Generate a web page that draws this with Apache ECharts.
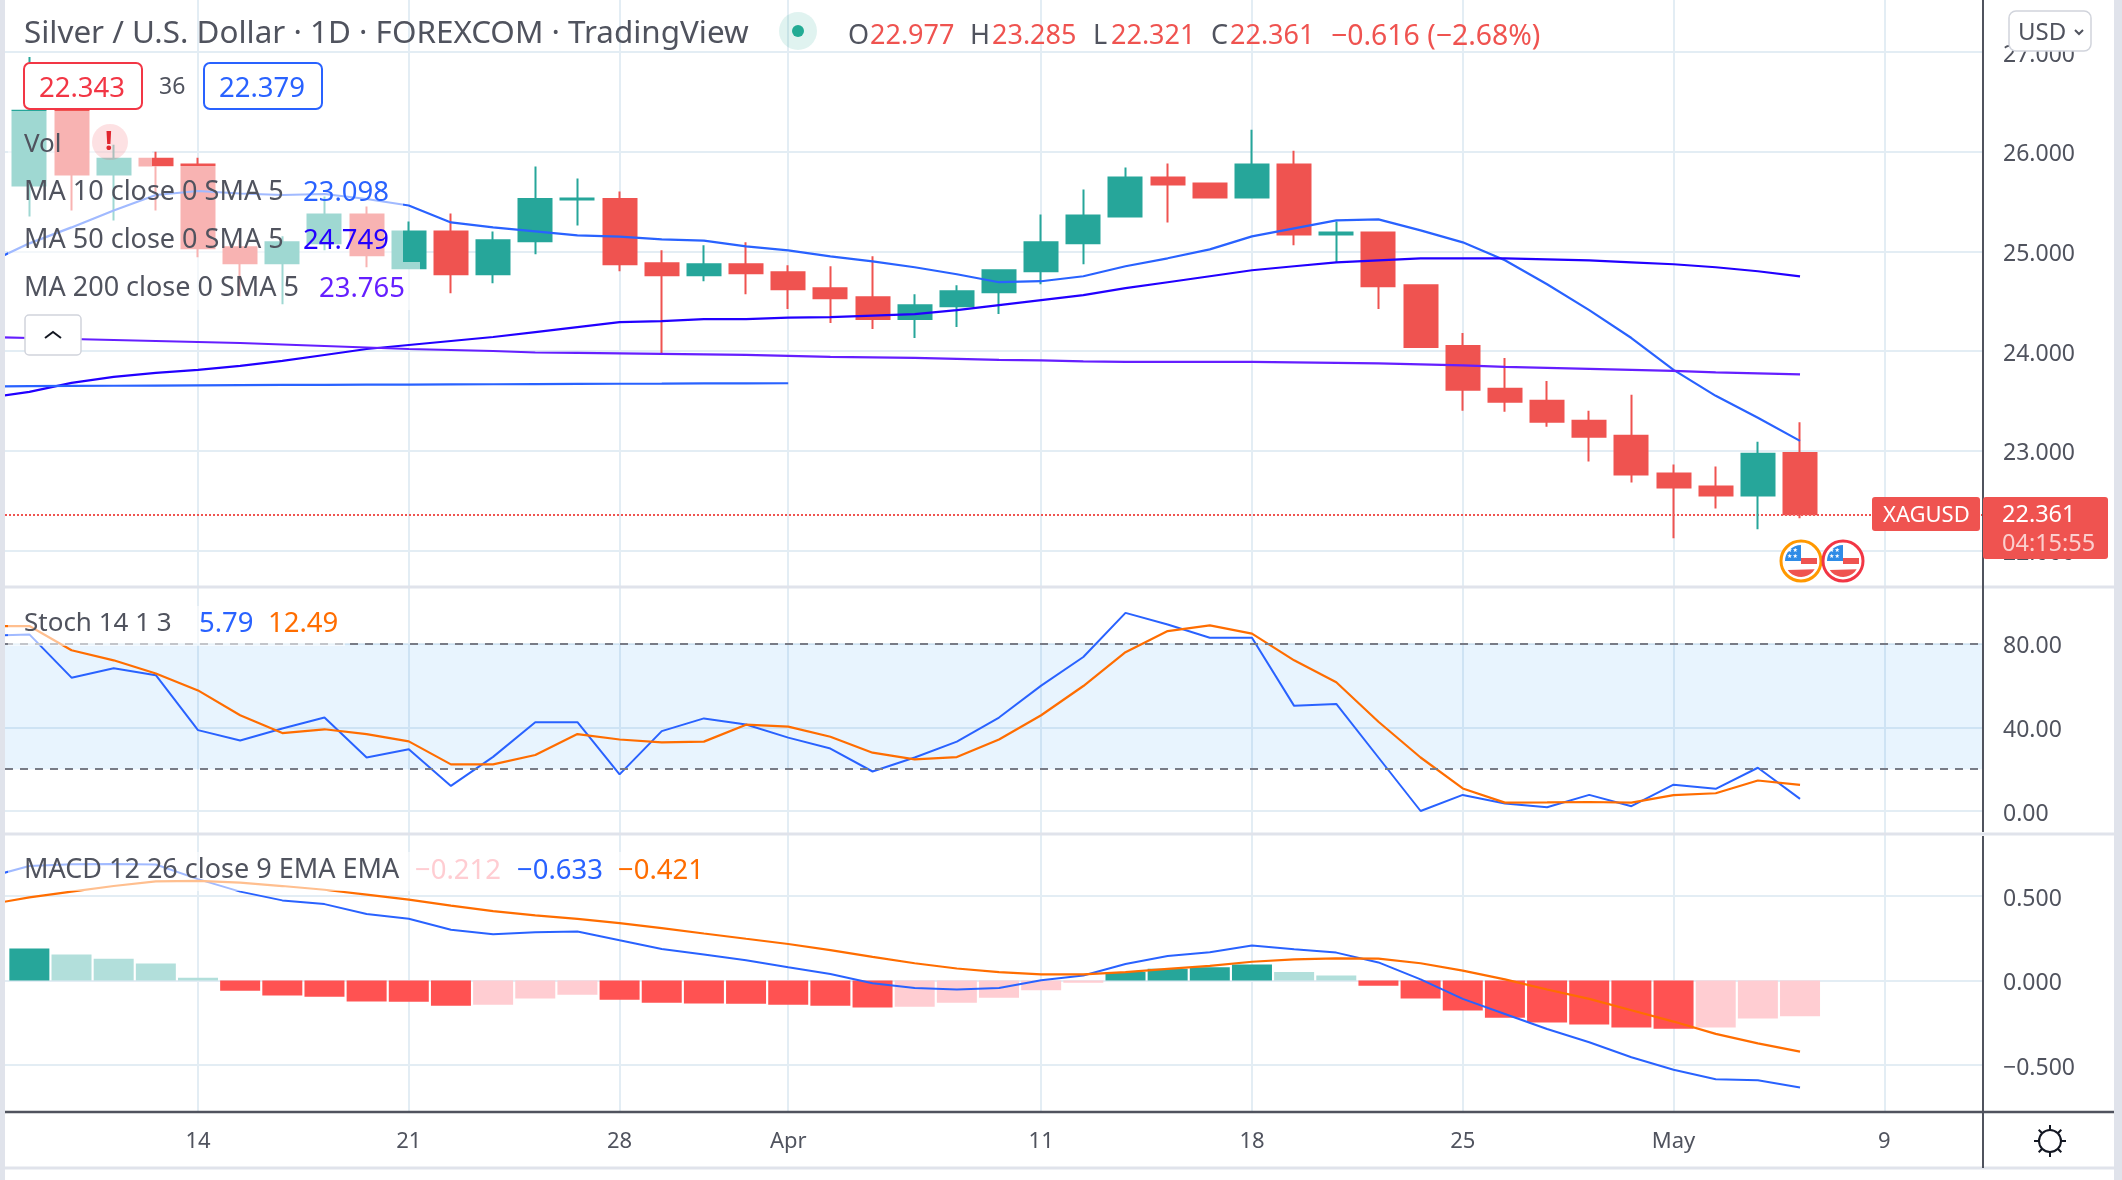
<!DOCTYPE html>
<html>
<head>
<meta charset="utf-8">
<style>html,body{margin:0;padding:0;background:#fff}#c{width:2122px;height:1180px}</style>
<script src="https://cdn.jsdelivr.net/npm/echarts@6/dist/echarts.min.js"></script>
</head>
<body>
<div id="c"></div>
<script>
// Trading days, index 0 = 7 Mar 2022
const categories = ['Mar 7','Mar 8','Mar 9','Mar 10','Mar 11','Mar 14','Mar 15','Mar 16','Mar 17','Mar 18','Mar 21','Mar 22','Mar 23','Mar 24','Mar 25','Mar 28','Mar 29','Mar 30','Mar 31','Apr 1','Apr 4','Apr 5','Apr 6','Apr 7','Apr 8','Apr 11','Apr 12','Apr 13','Apr 14','Apr 15','Apr 18','Apr 19','Apr 20','Apr 21','Apr 22','Apr 25','Apr 26','Apr 27','Apr 28','Apr 29','May 2','May 3','May 4','May 5','May 6','May 9'];
const tickLabels = {'Mar 14':'14','Mar 21':'21','Mar 28':'28','Apr 1':'Apr','Apr 11':'11','Apr 18':'18','Apr 25':'25','May 2':'May','May 9':'9'};
// Candles (null = before first visible bar)
const opens  = [null,25.66,26.41,25.77,25.93,25.87,25.04,24.88,25.08,25.37,24.83,25.20,24.77,25.10,25.52,25.525,24.88,24.76,24.87,24.79,24.63,24.54,24.32,24.45,24.59,24.80,25.08,25.35,25.74,25.68,25.54,25.87,25.17,25.19,24.66,24.05,23.62,23.50,23.30,23.15,22.77,22.64,22.55,22.977];
const closes = [null,26.41,25.77,25.93,25.86,25.03,24.88,25.09,25.37,24.96,25.20,24.77,25.11,25.525,25.53,24.87,24.76,24.87,24.78,24.62,24.53,24.32,24.46,24.60,24.81,25.09,25.36,25.74,25.67,25.54,25.87,25.17,25.19,24.65,24.04,23.61,23.49,23.29,23.14,22.76,22.63,22.55,22.97,22.361];
const lows   = [null,25.35,25.41,25.31,25.41,24.94,24.55,24.47,25.01,24.84,24.83,24.58,24.68,24.97,25.26,24.80,23.98,24.70,24.57,24.42,24.28,24.22,24.13,24.24,24.37,24.67,24.87,25.35,25.29,25.54,25.54,25.06,24.89,24.42,24.04,23.40,23.39,23.24,22.89,22.68,22.12,22.42,22.21,22.321];
const highs  = [null,26.95,26.55,26.07,26.00,25.94,25.12,25.15,25.55,25.45,25.30,25.38,25.20,25.85,25.73,25.60,25.01,25.06,25.09,24.86,24.85,24.95,24.57,24.66,24.81,25.37,25.62,25.84,25.88,25.68,26.22,26.01,25.30,25.20,24.66,24.18,23.93,23.70,23.40,23.56,22.86,22.84,23.09,23.285];
// Moving averages
const ma10 = [24.88,25.08,25.24,25.41,25.565,25.605,25.58,25.565,25.575,25.525,25.46,25.29,25.24,25.20,25.16,25.147,25.12,25.107,25.05,25.01,24.95,24.90,24.84,24.77,24.69,24.70,24.75,24.85,24.93,25.02,25.15,25.23,25.31,25.32,25.21,25.09,24.91,24.67,24.41,24.13,23.81,23.55,23.33,23.098];
const ma50 = [23.53,23.59,23.68,23.74,23.78,23.81,23.85,23.90,23.96,24.02,24.06,24.10,24.14,24.19,24.24,24.29,24.30,24.32,24.32,24.335,24.34,24.355,24.37,24.41,24.46,24.51,24.56,24.63,24.69,24.75,24.81,24.85,24.89,24.91,24.93,24.93,24.93,24.92,24.91,24.89,24.87,24.84,24.80,24.749];
const ma200 = [24.14,24.13,24.12,24.11,24.10,24.09,24.08,24.065,24.05,24.035,24.02,24.01,24.00,23.985,23.98,23.975,23.97,23.965,23.96,23.95,23.94,23.935,23.93,23.92,23.91,23.905,23.895,23.89,23.89,23.89,23.89,23.885,23.88,23.875,23.865,23.855,23.84,23.83,23.82,23.81,23.80,23.785,23.775,23.765];
const flatLine = [23.645,23.647,23.649,23.651,23.653,23.655,23.657,23.659,23.66,23.662,23.663,23.665,23.666,23.668,23.67,23.671,23.672,23.674,23.675,23.676];
// Stochastic
const stochK = [83.8,84.5,63.8,68.3,65,38.7,33.7,39.5,44.7,25.6,29.5,12,25.9,42.5,42.5,17.5,38.2,44.3,41.4,35.1,29.9,18.9,25.6,33.2,44.7,60,73.7,94.8,89.2,82.9,82.9,50.3,51.2,25.6,0,7.7,3.6,1.8,7.7,2.3,12.6,10.6,20.7,5.79];
const stochD = [88.5,88.5,76.9,72.1,65.8,57.7,45.8,37.3,39.1,36.8,33.3,22.3,22.3,26.8,36.8,34.2,32.8,33.2,41.3,40.4,35.5,27.9,24.7,25.8,34.2,45.8,59.8,76,86.1,88.8,84.9,72.1,61.6,42.7,25.6,10.8,4,4.1,4.3,4,7.6,8.5,14.6,12.49];
// MACD
const macdLine = [0.61,0.677,0.688,0.69,0.686,0.60,0.526,0.474,0.452,0.394,0.365,0.30,0.274,0.285,0.29,0.238,0.187,0.154,0.12,0.078,0.038,-0.016,-0.045,-0.053,-0.045,0.002,0.03,0.098,0.145,0.167,0.207,0.185,0.165,0.107,0.007,-0.109,-0.198,-0.287,-0.365,-0.454,-0.528,-0.584,-0.59,-0.633];
const macdSignal = [0.448,0.492,0.526,0.559,0.586,0.59,0.579,0.559,0.537,0.508,0.479,0.443,0.41,0.385,0.365,0.339,0.31,0.278,0.247,0.216,0.18,0.14,0.102,0.071,0.049,0.036,0.036,0.049,0.069,0.087,0.111,0.125,0.131,0.129,0.102,0.058,0.007,-0.053,-0.109,-0.176,-0.243,-0.316,-0.372,-0.421];
const macdHist = [null,0.19,0.154,0.129,0.10,0.016,-0.06,-0.089,-0.096,-0.124,-0.126,-0.149,-0.143,-0.107,-0.085,-0.114,-0.131,-0.136,-0.138,-0.143,-0.149,-0.16,-0.156,-0.131,-0.102,-0.058,-0.013,0.051,0.069,0.078,0.094,0.051,0.029,-0.031,-0.107,-0.178,-0.22,-0.249,-0.26,-0.278,-0.285,-0.278,-0.225,-0.212];

const FONT = '"Noto Sans", sans-serif';
const TXT = '#50535e', RED = '#ef5350', GREEN = '#26a69a', BLUE = '#2962ff', ORANGE = '#ff6d00', GRID = '#e3edf4';
const xMin = 0.4222, xMax = 47.34;   // visible index range of the time scale
const tickIdx = categories.map((c,i)=> tickLabels[c] ? i : -1).filter(i=>i>=0);
const pairs = a => a.map((v,i)=> v==null ? null : [i,v]).filter(Boolean);
const candles = opens.map((o,i)=> o==null ? null : [i,o,closes[i],lows[i],highs[i]]).filter(Boolean);
const histItems = macdHist.map((v,i)=>{
  if (v==null) return null;
  const p = macdHist[i-1];
  const c = v>=0 ? (p==null||v>p ? '#26a69a' : '#b2dfdb') : (v<p ? '#ff5252' : '#ffcdd2');
  return {value:[i,v], itemStyle:{color:c}};
}).filter(Boolean);

const hiddenX = gridIndex => ({type:'value',gridIndex,min:xMin,max:xMax,show:false,splitLine:{show:false}});
const line = (name,data,color,xi,yi,width,clip,extra) => Object.assign({
  name,type:'line',data:pairs(data),xAxisIndex:xi,yAxisIndex:yi,showSymbol:false,symbol:'none',
  lineStyle:{color,width},clip,silent:true,animation:false,z:3}, extra||{});

// ---- decoration helpers
const txt = (x,y,text,color,size,extra) => ({type:'text',x,y:y+2.8,z:31,silent:true,style:Object.assign({text,fill:color||TXT,font:(size||27)+'px '+FONT,verticalAlign:'middle'},extra||{})});
const rect = (x,y,w,h,fill,extra) => ({type:'rect',z:30,silent:true,shape:{x,y,width:w,height:h,r:(extra&&extra.r)||0},style:Object.assign({fill},extra&&extra.style||{})});
const seg = (x1,y1,x2,y2,stroke,lineWidth) => ({type:'line',z:29,silent:true,shape:{x1,y1,x2,y2},style:{stroke,lineWidth}});
const fade = 'rgba(255,255,255,0.56)';
const chord = (cx,cy) => { const pts=[]; for(let a=0.55;a<=Math.PI-0.55+1e-6;a+=0.2){pts.push([cx+Math.cos(a)*16,cy+Math.sin(a)*16]);} return pts; };
const flag = (cx,cy,ring) => ([
  {type:'circle',z:32,silent:true,shape:{cx,cy,r:20},style:{fill:'#fff',stroke:ring,lineWidth:3}},
  {type:'sector',z:33,silent:true,shape:{cx,cy,r:16,r0:0,startAngle:Math.PI,endAngle:Math.PI*1.5},style:{fill:'#2f8ce6'}},
  {type:'rect',z:33,silent:true,shape:{x:cx,y:cy-3,width:16,height:6},style:{fill:'#ef5350'}},
  {type:'polygon',z:33,silent:true,shape:{points:chord(cx,cy)},style:{fill:'#ef5350'}},
  {type:'text',x:cx-14,y:cy-14,z:34,silent:true,style:{text:'★★\n★★',fill:'#fff',font:'6px "DejaVu Sans"',lineHeight:6}}
]);
const gear = [];
for (let k=0;k<8;k++){const a=k*Math.PI/4;gear.push(seg(2050+Math.cos(a)*11,1141+Math.sin(a)*11,2050+Math.cos(a)*16,1141+Math.sin(a)*16,'#131722',2));}

const graphicEls = [
  // page frame
  rect(0,0,5,1180,'#e0e3eb'),
  rect(2114,0,8,1180,'#e0e3eb'),
  seg(5,587,2114,587,'#e0e3eb',3),
  seg(5,834,2114,834,'#e0e3eb',3),
  seg(5,1112,2114,1112,'#50535e',2.5),
  seg(5,1168,2114,1168,'#e0e3eb',3),
  seg(1983,0,1983,832,'#50535e',2),
  seg(1983,836,1983,1168,'#50535e',2),
  // legend fades
  rect(8,111,144,55,fade),
  rect(8,166,395,48,fade),
  rect(8,214,395,48,fade),
  rect(8,262,412,48,fade),
  rect(8,606,337,40,fade),
  rect(8,852,702,39,fade),
  // title row
  txt(24,31,'Silver / U.S. Dollar · 1D · FOREXCOM · TradingView',TXT,31.4),
  {type:'circle',z:31,silent:true,shape:{cx:798,cy:31,r:19},style:{fill:'rgba(34,171,148,0.14)'}},
  {type:'circle',z:32,silent:true,shape:{cx:798,cy:31,r:6},style:{fill:'#22ab94'}},
  txt(848,34,'O',TXT), txt(870,34,'22.977',RED),
  txt(970,34,'H',TXT), txt(992,34,'23.285',RED),
  txt(1093,34,'L',TXT), txt(1111,34,'22.321',RED),
  txt(1211,34,'C',TXT), txt(1230,34,'22.361',RED),
  txt(1331,34,'−0.616 (−2.68%)',RED,28.4),
  // bid/ask boxes
  rect(24,63,118,46,'#fff',{r:6,style:{stroke:'#f23645',lineWidth:2}}),
  txt(39,86,'22.343','#f23645',27.5),
  txt(159,85,'36',TXT,23),
  rect(204,63,118,46,'#fff',{r:6,style:{stroke:BLUE,lineWidth:2}}),
  txt(219,86,'22.379',BLUE,27.5),
  // indicator legends
  txt(24,142,'Vol',TXT,26),
  {type:'circle',z:31,silent:true,shape:{cx:110,cy:142,r:18},style:{fill:'rgba(242,54,69,0.15)'}},
  txt(105,140,'!','#e0262f',27,{font:'bold 27px '+FONT}),
  txt(24,190,'MA 10 close 0 SMA 5'), txt(303,190,'23.098',BLUE,27.5),
  txt(24,238,'MA 50 close 0 SMA 5'), txt(303,238,'24.749','#2200ff',27.5),
  txt(24,286,'MA 200 close 0 SMA 5'), txt(319,286,'23.765','#651fff',27.5),
  rect(25,315,56,40,'#fff',{r:4,style:{stroke:'#d1d4dc',lineWidth:1.5}}),
  {type:'polyline',z:32,silent:true,shape:{points:[[45,338],[53,332],[61,338]]},style:{stroke:'#131722',lineWidth:2,fill:null}},
  txt(24,621,'Stoch 14 1 3',TXT,26), txt(199,621,'5.79',BLUE,27.5), txt(268,621,'12.49',ORANGE,27.5),
  txt(24,868,'MACD 12 26 close 9 EMA EMA'), txt(415,868,'−0.212','#ffcdd2',27.5), txt(517,868,'−0.633',BLUE,27.5), txt(618,868,'−0.421',ORANGE,27.5),
  // currency button
  rect(2009,11,82,40,'#fff',{r:7,style:{stroke:'#d1d4dc',lineWidth:1.5}}),
  txt(2018,30.5,'USD',TXT,24),
  {type:'polyline',z:32,silent:true,shape:{points:[[2075,30],[2079,34],[2083,30]]},style:{stroke:TXT,lineWidth:2,fill:null}},
  // last price labels
  rect(1872,497,108,34,RED,{r:3}),
  txt(1883,513,'XAGUSD','#fff',22),
  rect(1983,497,125,62,RED,{r:3}),
  txt(2002,513,'22.361','#fff',23.5),
  txt(2002,542,'04:15:55','rgba(255,255,255,0.72)',23.5),
  ...flag(1801,561,'#ff9800'),
  ...flag(1843,561,'#f23645'),
  {type:'circle',z:30,silent:true,shape:{cx:2050,cy:1141,r:11},style:{fill:'#fff',stroke:'#131722',lineWidth:2}},
  ...gear
];

const yLabel = fmt => ({color:TXT,fontSize:23,fontFamily:FONT,margin:20,verticalAlign:'top',lineHeight:6,formatter:fmt});
const yBase = {position:'right',axisLine:{show:false},axisTick:{show:false},splitLine:{show:true,lineStyle:{color:GRID,width:2}}};
const option = {
  animation:false,
  backgroundColor:'#fff',
  textStyle:{fontFamily:FONT},
  grid:[
    {left:5,width:1978,top:0,height:1112},                    // vertical date grid
    {left:5,width:1978,top:52,height:498.3},                  // price
    {left:5,width:1978,top:643.8,height:167.2},               // stochastic
    {left:5,width:1978,top:896,height:169}                    // MACD
  ],
  xAxis:[
    {type:'value',gridIndex:0,min:xMin,max:xMax,
      axisLine:{show:false},
      axisTick:{show:false,customValues:tickIdx},
      splitLine:{show:true,lineStyle:{color:GRID,width:2}},
      axisLabel:{customValues:tickIdx,margin:19,color:TXT,fontSize:22,fontFamily:FONT,hideOverlap:false,
        formatter:v=>tickLabels[categories[v]]||''}},
    hiddenX(1),hiddenX(2),hiddenX(3)
  ],
  yAxis:[
    {type:'value',gridIndex:0,min:0,max:1,show:false,splitLine:{show:false}},
    Object.assign({},yBase,{type:'value',gridIndex:1,min:22,max:27,interval:1,axisLabel:yLabel(v=>v.toFixed(3))}),
    Object.assign({},yBase,{type:'value',gridIndex:2,min:0,max:80,interval:40,axisLabel:yLabel(v=>v.toFixed(2))}),
    Object.assign({},yBase,{type:'value',gridIndex:3,min:-0.5,max:0.5,interval:0.5,axisLabel:yLabel(v=>v.toFixed(3).replace('-','−'))})
  ],
  series:[
    {name:'Silver',type:'candlestick',xAxisIndex:1,yAxisIndex:1,data:candles,barWidth:33.5,silent:true,z:2,
      itemStyle:{color:GREEN,color0:RED,borderColor:GREEN,borderColor0:RED,borderWidth:2},
      markLine:{silent:true,symbol:'none',label:{show:false},animation:false,z:2,
        lineStyle:{color:RED,type:'dotted',width:2},data:[{yAxis:closes[closes.length-1]}]}},
    line('MA 10',ma10,BLUE,1,1,2.2,true),
    line('MA 50',ma50,'#2200ff',1,1,2.2,true),
    line('MA 200',ma200,'#651fff',1,1,2.2,true),
    line('MA flat',flatLine,BLUE,1,1,2.2,true),
    line('%K',stochK,BLUE,2,2,2,false,{
      markArea:{silent:true,animation:false,itemStyle:{color:'rgba(33,150,243,0.1)'},data:[[{yAxis:80},{yAxis:20}]]},
      markLine:{silent:true,symbol:'none',animation:false,label:{show:false},
        lineStyle:{color:'#787b86',type:[8,7],width:2},data:[{yAxis:80},{yAxis:20}]}
    }),
    line('%D',stochD,ORANGE,2,2,2.2,false),
    {name:'Histogram',type:'bar',xAxisIndex:3,yAxisIndex:3,data:histItems,barWidth:40,silent:true,z:2},
    line('MACD',macdLine,BLUE,3,3,2,false),
    line('Signal',macdSignal,ORANGE,3,3,2.2,false)
  ],
  graphic:{elements:graphicEls}
};
const chart = echarts.init(document.getElementById('c'),null,{renderer:'canvas',width:2122,height:1180});
chart.setOption(option);
</script>
</body>
</html>
